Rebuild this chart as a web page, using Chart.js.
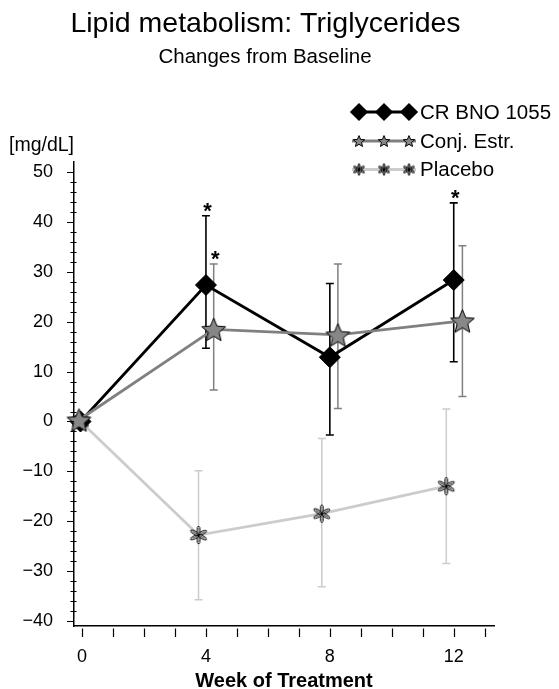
<!DOCTYPE html>
<html lang="en">
<head>
  <meta charset="UTF-8">
  <title>Lipid metabolism: Triglycerides</title>
  <script src="https://cdn.jsdelivr.net/npm/chart.js"></script>
  <style>
    body {
      margin: 0;
      background-color: #FFFFFF;
    }
    canvas {
      display: block;
    }
  </style>
</head>
<body>
  <canvas id="lipidChart" width="559" height="689"></canvas>

  <script>
    // Valeurs (mg/dL, variation depuis la baseline)
    const seriesNames = ["CR BNO 1055", "Conj. Estr.", "Placebo"];

    const crWeeks = [-0.05, 4, 8, 12];
    const crMean  = [0, 27.4, 12.9, 28.4];
    const crUpper = [null, 41.3, 27.7, 43.9];
    const crLower = [null, 14.7, -2.7, 12.0];

    const conjWeeks = [-0.1, 4.25, 8.26, 12.28];
    const conjMean  = [0.3, 18.5, 17.4, 20.2];
    const conjUpper = [null, 31.6, 31.6, 35.3];
    const conjLower = [null, 6.3, 2.6, 5.0];

    const placeboWeeks = [-0.05, 3.76, 7.74, 11.76];
    const placeboMean  = [0, -22.8, -18.5, -13.0];
    const placeboUpper = [null, -9.9, -3.4, 2.5];
    const placeboLower = [null, -35.8, -33.2, -28.5];

    // points significatifs (série, index)
    const sigMarks = [["cr", 1], ["conj", 1], ["cr", 3]];

    const xTicks = [0, 1, 2, 3, 4, 5, 6, 7, 8, 9, 10, 11, 12, 13];
    const xLabels = [0, 4, 8, 12];
    const yTicks = [];
    for (let v = -40; v <= 50; v += 2) yTicks.push(v);

    const FONT = "'Liberation Sans', Arial, sans-serif";

    function makeStar(R) {
      const c = document.createElement("canvas");
      const s = Math.ceil(2 * R + 4);
      c.width = c.height = s;
      const g = c.getContext("2d");
      g.translate(s / 2, s / 2 + R * 0.1);
      g.beginPath();
      for (let i = 0; i < 10; i++) {
        const r = i % 2 ? R * 0.45 : R;
        const a = -Math.PI / 2 + i * Math.PI / 5;
        g.lineTo(r * Math.cos(a), r * Math.sin(a));
      }
      g.closePath();
      g.fillStyle = "#878787";
      g.fill();
      g.lineWidth = 1;
      g.strokeStyle = "#000";
      g.stroke();
      return c;
    }

    function makeAsterisk(R) {
      const c = document.createElement("canvas");
      const s = Math.ceil(2 * R + 4);
      c.width = c.height = s;
      const g = c.getContext("2d");
      g.translate(s / 2, s / 2);
      for (let k = 0; k < 6; k++) {
        g.save();
        g.rotate(Math.PI / 2 + k * Math.PI / 3);
        g.beginPath();
        g.ellipse(R / 2, 0, R / 2, R * 0.17, 0, 0, Math.PI * 2);
        g.fillStyle = "#fff";
        g.fill();
        g.lineWidth = 0.9;
        g.strokeStyle = "#000";
        g.stroke();
        g.beginPath();
        g.moveTo(0, 0);
        g.lineTo(R * 0.8, 0);
        g.lineWidth = 0.7;
        g.stroke();
        g.restore();
      }
      g.fillStyle = "#000";
      g.beginPath();
      g.arc(0, 0, 1.3, 0, Math.PI * 2);
      g.fill();
      return c;
    }

    const starBig = makeStar(12.5);
    const starSmall = makeStar(6);
    const astBig = makeAsterisk(9);
    const astSmall = makeAsterisk(6);

    const series = {
      cr:      { x: crWeeks, mean: crMean, up: crUpper, lo: crLower, color: "#000000", width: 1.6 },
      conj:    { x: conjWeeks, mean: conjMean, up: conjUpper, lo: conjLower, color: "#808080", width: 1.5 },
      placebo: { x: placeboWeeks, mean: placeboMean, up: placeboUpper, lo: placeboLower, color: "#cccccc", width: 1.5 }
    };

    function toPoints(xs, ys) {
      return xs.map((x, i) => ({ x: x, y: ys[i] }));
    }

    const fmt = v => (v < 0 ? "\u2212" + Math.abs(v) : String(v));

    // barres d'erreur dessinées avec les échelles du graphique
    const errorBars = {
      id: "errorBars",
      beforeDatasetsDraw(chart) {
        const { ctx, scales: { x, y } } = chart;
        ctx.save();
        ["placebo", "conj", "cr"].forEach(key => {
          const s = series[key];
          ctx.strokeStyle = s.color;
          ctx.lineWidth = s.width;
          s.x.forEach((wx, i) => {
            if (s.up[i] === null) return;
            const px = x.getPixelForValue(wx);
            const top = y.getPixelForValue(s.up[i]);
            const bot = y.getPixelForValue(s.lo[i]);
            ctx.beginPath();
            ctx.moveTo(px, top);
            ctx.lineTo(px, bot);
            ctx.moveTo(px - 4, top);
            ctx.lineTo(px + 4, top);
            ctx.moveTo(px - 4, bot);
            ctx.lineTo(px + 4, bot);
            ctx.stroke();
          });
        });
        ctx.restore();
      }
    };

    // graduations, titres, légende
    const decorations = {
      id: "decorations",
      afterDraw(chart) {
        const { ctx, scales: { x, y }, chartArea } = chart;
        ctx.save();
        ctx.strokeStyle = "#000";
        ctx.lineWidth = 1.2;
        ctx.beginPath();
        y.ticks.forEach(t => {
          const py = Math.round(y.getPixelForValue(t.value)) + 0.5;
          if (t.value % 10 === 0) {
            ctx.moveTo(chartArea.left - 7, py);
            ctx.lineTo(chartArea.left, py);
          } else {
            ctx.moveTo(chartArea.left - 3.5, py);
            ctx.lineTo(chartArea.left + 2.5, py);
          }
        });
        x.ticks.forEach(t => {
          const px = Math.round(x.getPixelForValue(t.value)) + 0.5;
          ctx.moveTo(px, chartArea.bottom + 2.5);
          ctx.lineTo(px, chartArea.bottom + 11);
        });
        ctx.stroke();

        ctx.fillStyle = "#000";
        ctx.textAlign = "center";
        ctx.textBaseline = "alphabetic";
        ctx.font = "28.5px " + FONT;
        ctx.fillText("Lipid metabolism: Triglycerides", 265.5, 32);
        ctx.font = "20.5px " + FONT;
        ctx.fillText("Changes from Baseline", 265, 63);

        ctx.textAlign = "left";
        ctx.font = "19.5px " + FONT;
        ctx.fillText("[mg/dL]", 9, 151);

        // étoiles de significativité
        ctx.textAlign = "center";
        ctx.textBaseline = "middle";
        ctx.font = "bold 22px " + FONT;
        sigMarks.forEach(([key, i]) => {
          const s = series[key];
          const px = x.getPixelForValue(s.x[i]) + 1.5;
          const py = y.getPixelForValue(s.up[i]) - 9;
          ctx.fillText("*", px, py + 5);
        });

        // légende
        const rows = [112, 141, 169.5];
        const keys = ["cr", "conj", "placebo"];
        const markers = [
          { pointStyle: "rectRot", radius: 7, borderWidth: 1 },
          { pointStyle: starSmall, radius: 6, borderWidth: 0 },
          { pointStyle: astSmall, radius: 6, borderWidth: 0 }
        ];
        ctx.font = "20.5px " + FONT;
        ctx.textAlign = "left";
        keys.forEach((key, r) => {
          const yy = rows[r];
          ctx.strokeStyle = series[key].color;
          ctx.lineWidth = 3;
          ctx.beginPath();
          ctx.moveTo(352, yy);
          ctx.lineTo(416, yy);
          ctx.stroke();
          [359, 384, 409].forEach(mx => {
            ctx.fillStyle = "#000";
            ctx.strokeStyle = "#000";
            Chart.helpers.drawPoint(ctx, markers[r], mx, yy);
          });
          ctx.fillStyle = "#000";
          ctx.fillText(seriesNames[r], 420, yy + 1);
        });
        ctx.restore();
      }
    };

    new Chart(document.getElementById("lipidChart"), {
      type: "line",
      data: {
        datasets: [
          {
            label: seriesNames[0],
            data: toPoints(crWeeks, crMean),
            borderColor: "#000000",
            borderWidth: 2.8,
            pointStyle: "rectRot",
            pointRadius: 10.5,
            pointBackgroundColor: "#000000",
            pointBorderColor: "#000000",
            pointBorderWidth: 1,
            clip: false,
            order: 1
          },
          {
            label: seriesNames[1],
            data: toPoints(conjWeeks, conjMean),
            borderColor: "#808080",
            borderWidth: 2.8,
            pointStyle: starBig,
            pointRadius: 12,
            clip: false,
            order: 0
          },
          {
            label: seriesNames[2],
            data: toPoints(placeboWeeks, placeboMean),
            borderColor: "#cccccc",
            borderWidth: 2.8,
            pointStyle: astBig,
            pointRadius: 9,
            clip: false,
            order: 2
          }
        ]
      },
      options: {
        responsive: false,
        animation: false,
        events: [],
        layout: {
          padding: { top: 162, right: 65, left: 0, bottom: 0 }
        },
        plugins: {
          legend: { display: false },
          tooltip: { enabled: false }
        },
        scales: {
          x: {
            type: "linear",
            min: -0.26,
            max: 13.3,
            afterFit: s => { s.height = 63; },
            afterBuildTicks: s => { s.ticks = xTicks.map(v => ({ value: v })); },
            grid: { display: false, drawTicks: false },
            border: { display: true, color: "#000", width: 1.5 },
            ticks: {
              padding: 20,
              autoSkip: false,
              maxRotation: 0,
              color: "#000",
              font: { family: FONT, size: 18 },
              callback: v => (xLabels.includes(v) ? String(v) : "")
            },
            title: {
              display: true,
              text: "Week of Treatment",
              color: "#000",
              font: { family: FONT, size: 20, weight: "bold", lineHeight: 1 },
              padding: { top: 0, bottom: -2 }
            }
          },
          y: {
            min: -41.06,
            max: 52.1,
            afterFit: s => { s.width = 74; },
            afterBuildTicks: s => { s.ticks = yTicks.map(v => ({ value: v })); },
            grid: { display: false, drawTicks: false },
            border: { display: true, color: "#000", width: 1.5 },
            ticks: {
              padding: 21,
              autoSkip: false,
              color: "#000",
              font: { family: FONT, size: 18 },
              callback: v => (v % 10 === 0 ? fmt(v) : "")
            }
          }
        }
      },
      plugins: [errorBars, decorations]
    });
  </script>
</body>
</html>
